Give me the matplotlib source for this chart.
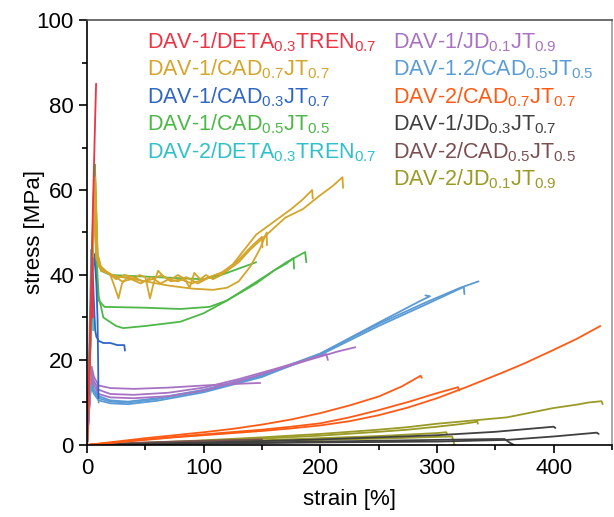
import matplotlib
matplotlib.use("Agg")
import matplotlib.pyplot as plt
from matplotlib.ticker import MultipleLocator

plt.rcParams["font.family"] = ["Liberation Sans", "DejaVu Sans"]
plt.rcParams["mathtext.fontset"] = "custom"
plt.rcParams["mathtext.rm"] = "Liberation Sans"
plt.rcParams["mathtext.default"] = "regular"

# -----------------------------
# Data (strain [%], stress [MPa])
# -----------------------------
deta1_curves = [
    ([0, 1, 2, 3, 4, 5, 6, 7, 7.8], [0, 8, 18, 30, 42, 55, 66, 77, 85]),
    ([0, 1, 2, 3, 4, 4.6, 5.0], [0, 7, 16, 26, 37, 44, 30]),
]
cad07_1_curves = [
    ([0, 2, 4, 6, 7, 9, 12, 18, 25, 32, 40, 48, 56, 64, 72, 80, 90, 100, 110, 120, 130,
      140, 150, 160, 170, 185, 200, 210, 219, 219.5],
     [0, 15, 35, 55, 63, 44, 41, 40.5, 39, 40, 39.5, 38.5, 39, 40, 38.5, 39, 38, 39, 40, 41, 43,
      46, 48.5, 51, 53.5, 55.5, 58.8, 60.8, 63, 60.5]),
    ([0, 2, 4, 6, 8, 11, 15, 22, 30, 38, 46, 55, 63, 70, 78, 85, 95, 105, 115, 125, 135,
      145, 155, 165, 175, 185, 193, 193.5],
     [0, 16, 38, 60, 44, 42, 41, 40, 38.5, 39, 38, 39.5, 38, 39, 38.5, 39.5, 38, 39.5, 40.5, 42.5, 46,
      49.5, 51.5, 53.5, 55.5, 57.8, 60, 58]),
    ([0, 2, 4, 6, 8, 10, 14, 20, 30, 50, 70, 90, 108, 120, 130, 140, 148, 154, 154.3],
     [0, 15, 36, 58, 45, 42, 41, 40, 39.5, 38.5, 37.5, 36.8, 36.5, 37, 38.5, 42, 46, 50, 47]),
    ([0, 2, 4, 6, 7, 9, 12, 16, 20, 24, 27, 30, 35, 40, 45, 50, 54, 57, 61, 66, 72, 78, 84,
      88, 92, 97, 102, 108, 115, 120, 128, 135, 142, 150, 150.4],
     [0, 14, 34, 55, 62, 45, 42, 41, 40, 37, 34.5, 38, 39.5, 39, 40, 39.5, 34.5, 38, 41, 39.5, 39, 40, 39,
      37, 40.5, 39, 40, 39, 40, 41, 43, 45, 47, 49, 46.5]),
]
cad03_1_curves = [
    ([0, 1, 2, 3, 4, 5, 6, 7, 8, 10, 14, 20, 26, 30, 32, 32.5],
     [0, 8, 17, 26, 34, 40, 33, 27, 25.5, 24.5, 24, 24, 23.5, 23.5, 23.5, 22.2]),
    ([0, 1, 2, 3, 4, 5, 6, 7, 8, 9, 9.6, 9.8],
     [0, 7, 15, 24, 33, 41, 45, 42, 38, 30, 18, 11]),
]
cad05_1_curves = [
    ([0, 1, 2, 3, 4, 5, 6, 6.8, 9, 12, 20, 60, 100, 115, 130, 145],
     [0, 9, 19, 30, 41, 52, 61, 66, 45, 41, 40, 39.5, 39, 40, 41.5, 43]),
    ([0, 1, 2, 3, 4, 5, 6.5, 8, 10, 15, 50, 80, 105, 120, 143, 160, 171, 187, 188],
     [0, 9, 19, 29, 39, 50, 63, 40, 34, 32.5, 32.3, 32, 32.5, 34, 38, 41, 43, 45.4, 43]),
    ([0, 1, 2, 3, 4, 5, 6, 8, 10, 14, 25, 31, 50, 80, 100, 120, 145, 160, 171, 177, 177.5],
     [0, 8, 18, 28, 38, 48, 60, 45, 35, 30, 28, 27.5, 28, 29, 31, 34, 38, 41, 42.7, 44, 41.5]),
]
deta2_curves = [
    ([0, 0.8, 1.6, 2.4, 3.2, 3.8, 4.5, 5.2], [0, 9, 19, 30, 40, 46, 38, 27]),
    ([0, 0.8, 1.6, 2.4, 3.0], [0, 7, 13, 17, 18]),
    ([0, 1, 2, 3], [0, 6, 11, 14]),
]
jd01_1_curves = [
    ([0, 1.5, 3, 4, 6, 10, 20, 40, 70, 100, 130, 148.5],
     [0, 8, 15, 18.4, 16, 14, 13.4, 13.2, 13.5, 14, 14.4, 14.6]),
    ([0, 1.5, 3, 4, 6, 10, 20, 40, 70, 100, 130, 160, 185, 205, 206.5],
     [0, 7, 14, 17, 15, 13, 12, 11.8, 12.3, 13.5, 15.5, 17.8, 19.8, 21.4, 20]),
    ([0, 1.5, 3, 4, 6, 10, 20, 40, 70, 100, 130, 160, 190, 215, 230],
     [0, 7, 13, 16, 14, 12, 11.2, 11, 11.5, 12.8, 15, 17.5, 20, 22, 23]),
]
cad05_12_curves = [
    ([0, 1, 2, 3, 4, 6, 10, 20, 35, 60, 100, 150, 200, 250, 290, 320, 335.6],
     [0, 5, 10, 13.5, 15, 13, 11.5, 10.5, 10.2, 11, 13, 16.5, 21.5, 28.5, 33.5, 37, 38.5]),
    ([0, 1, 2, 3, 4, 6, 10, 20, 35, 60, 100, 150, 200, 250, 290, 323, 323.5],
     [0, 5, 10, 13, 14.2, 12.5, 11, 10.2, 10, 10.8, 12.7, 16.2, 21.2, 28, 33, 37.2, 35.5]),
    ([0, 1, 2, 3, 4, 6, 10, 20, 35, 60, 100, 150, 200, 250, 285, 294, 290],
     [0, 4, 9, 12.5, 13.5, 12, 10.5, 9.8, 9.6, 10.4, 12.4, 16, 21.5, 28.8, 33.8, 35, 35.2]),
    ([0, 1, 2, 3, 4, 5, 8, 9.5, 10],
     [0, 5, 10, 14, 16, 15, 14, 12, 10]),
]
cad07_2_curves = [
    ([0, 25, 50, 75, 100, 125, 150, 175, 200, 225, 250, 275, 300, 325, 355, 375, 397, 420, 440],
     [0, 0.6, 1.2, 1.8, 2.3, 2.8, 3.3, 3.9, 4.6, 5.6, 7.0, 8.8, 11.0, 13.6, 16.9, 19.2, 22, 25, 28]),
    ([0, 25, 50, 75, 100, 125, 150, 175, 200, 225, 250, 270, 286, 287],
     [0, 0.8, 1.6, 2.3, 3.0, 3.8, 4.8, 6.0, 7.5, 9.3, 11.4, 13.8, 16.3, 15.8]),
    ([0, 50, 100, 150, 175, 200, 225, 250, 275, 300, 318, 319],
     [0, 1.3, 2.5, 3.6, 4.3, 5.1, 6.5, 8.2, 10.1, 12.2, 13.6, 12.8]),
]
jd03_1_curves = [
    ([0, 100, 200, 250, 300, 350, 400, 401.5], [0, 0.6, 1.3, 1.8, 2.3, 3.1, 4.3, 4.0]),
    ([0, 100, 200, 300, 360, 400, 437, 438.6], [0, 0.3, 0.6, 0.8, 1.2, 2.0, 2.9, 2.6]),
    ([0, 100, 200, 300, 350, 358, 362, 366], [0, 0.4, 0.8, 1.2, 1.4, 1.4, 0.6, 0]),
]
cad05_2_curves = [
    ([0, 20, 50, 100, 150], [0, 0.3, 0.6, 1.0, 1.3]),
]
jd01_2_curves = [
    ([0, 50, 100, 150, 200, 250, 275, 300, 320, 340, 360, 380, 400, 420, 430, 441, 442],
     [0, 0.5, 1.1, 1.8, 2.6, 3.6, 4.2, 5.0, 5.5, 6.0, 6.5, 7.6, 8.7, 9.5, 10, 10.3, 9.6]),
    ([0, 50, 100, 150, 200, 250, 275, 300, 320, 333, 334.5, 335],
     [0, 0.4, 0.9, 1.5, 2.2, 3.1, 3.6, 4.3, 4.9, 5.4, 5.6, 5.0]),
    ([0, 50, 100, 150, 200, 250, 300, 313, 314, 315],
     [0, 0.3, 0.6, 0.9, 1.2, 1.5, 1.9, 2.0, 1.0, 0]),
    ([0, 50, 100, 150, 200, 250, 300, 308, 308.5],
     [0, 0.3, 0.7, 1.1, 1.6, 2.1, 2.8, 3.0, 2.6]),
]

# legend label, colour, curves  (column 1 then column 2)
samples_col1 = [
    ("DAV-1/DETA$_{0.3}$TREN$_{0.7}$", "#EE3344", deta1_curves),
    ("DAV-1/CAD$_{0.7}$JT$_{0.7}$", "#D4A52A", cad07_1_curves),
    ("DAV-1/CAD$_{0.3}$JT$_{0.7}$", "#2F66C5", cad03_1_curves),
    ("DAV-1/CAD$_{0.5}$JT$_{0.5}$", "#4DB848", cad05_1_curves),
    ("DAV-2/DETA$_{0.3}$TREN$_{0.7}$", "#2EC1C9", deta2_curves),
]
samples_col2 = [
    ("DAV-1/JD$_{0.1}$JT$_{0.9}$", "#A872C4", jd01_1_curves),
    ("DAV-1.2/CAD$_{0.5}$JT$_{0.5}$", "#5B9BD5", cad05_12_curves),
    ("DAV-2/CAD$_{0.7}$JT$_{0.7}$", "#FF5A14", cad07_2_curves),
    ("DAV-1/JD$_{0.3}$JT$_{0.7}$", "#404040", jd03_1_curves),
    ("DAV-2/CAD$_{0.5}$JT$_{0.5}$", "#7B4F50", cad05_2_curves),
    ("DAV-2/JD$_{0.1}$JT$_{0.9}$", "#9A9A26", jd01_2_curves),
]

fig = plt.figure(figsize=(6.14, 5.17), dpi=100)
ax = fig.add_axes([0.1417, 0.1393, 0.855, 0.822])

draw_order = samples_col2[::-1] + samples_col1[::-1]
for label, color, curves in draw_order:
    for xs, ys in curves:
        ax.plot(xs, ys, color=color, lw=1.3, solid_capstyle="round")

ax.set_xlim(0, 450)
ax.set_ylim(0, 100)
ax.xaxis.set_major_locator(MultipleLocator(100))
ax.xaxis.set_minor_locator(MultipleLocator(50))
ax.yaxis.set_major_locator(MultipleLocator(20))
ax.yaxis.set_minor_locator(MultipleLocator(10))
ax.tick_params(which="major", direction="out", length=6, width=1.2, labelsize=16)
ax.tick_params(which="minor", direction="out", length=3.5, width=1.2)
for sp in ax.spines.values():
    sp.set_linewidth(1.2)
ax.spines["top"].set_color("#555555")
ax.spines["right"].set_color("#999999")

ax.set_xlabel("strain [%]", fontsize=16, labelpad=7)
ax.set_ylabel("stress [MPa]", fontsize=16, labelpad=-6)

# coloured text legend
y0 = 0.934
dy = 0.0647
for i, (label, color, _) in enumerate(samples_col1):
    ax.text(0.114, y0 - i * dy, label, color=color, fontsize=15.5,
            transform=ax.transAxes, va="baseline", ha="left")
for i, (label, color, _) in enumerate(samples_col2):
    ax.text(0.583, y0 - i * dy, label, color=color, fontsize=15.5,
            transform=ax.transAxes, va="baseline", ha="left")

fig.savefig("out.png", dpi=100)
